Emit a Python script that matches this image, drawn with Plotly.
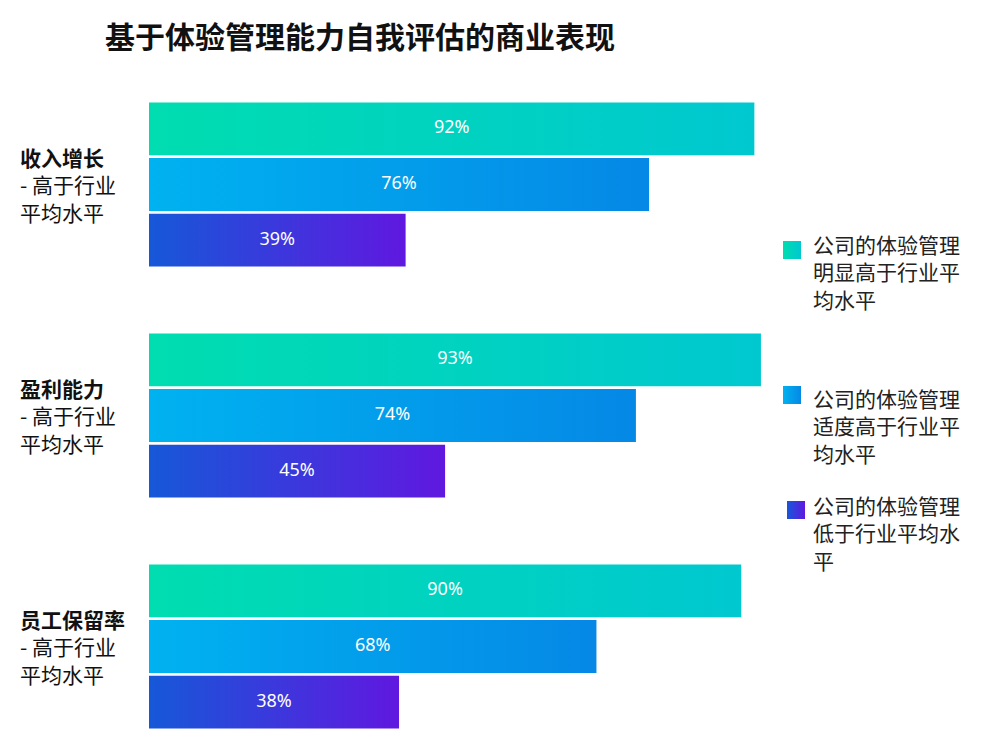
import plotly.graph_objects as go

# data
metrics = ["收入增长", "盈利能力", "员工保留率"]
metric_note = "- 高于行业<br>平均水平"
levels = [
    "公司的体验管理<br>明显高于行业平<br>均水平",
    "公司的体验管理<br>适度高于行业平<br>均水平",
    "公司的体验管理<br>低于行业平均水<br>平",
]
high = [92, 93, 90]
moderate = [76, 74, 68]
low = [39, 45, 38]
series = [high, moderate, low]

# styling
grads = [("#00DDB0", "#00C8D0"), ("#00B2F0", "#0588E6"), ("#1658D8", "#6018E0")]
cjk = "Noto Sans CJK SC"
G = 4.15      # spacing between groups (in bar units)
half = 0.475  # half bar height

# page body has an 8px margin, so the figure is a bit smaller than the window
OFF = 8
W, H = 984, 734


def px(x):
    return (x - OFF) / W


def py(y):
    return 1 - (y - OFF) / H


fig = go.Figure()

for k, vals in enumerate(series):
    for g, v in enumerate(vals):
        yc = g * G + k
        fig.add_trace(go.Scatter(
            x=[0, v, v, 0, 0],
            y=[yc - half, yc - half, yc + half, yc + half, yc - half],
            fill="toself", mode="lines", line=dict(width=0),
            fillgradient=dict(type="horizontal",
                              colorscale=[[0, grads[k][0]], [1, grads[k][1]]]),
            hoverinfo="skip", showlegend=False,
        ))
    fig.add_trace(go.Scatter(
        x=[v / 2 for v in vals], y=[g * G + k for g in range(len(vals))],
        mode="text", text=[f"{v}%" for v in vals],
        textfont=dict(family="Noto Sans, " + cjk, size=18, color="white"),
        hoverinfo="skip", showlegend=False,
    ))

# legend keys on a page-sized axis pair
key_pos = [(792, 250), (792, 395), (796, 510)]
for k, (kx, ky) in enumerate(key_pos):
    fig.add_trace(go.Scatter(
        x=[kx - OFF], y=[ky - OFF], xaxis="x2", yaxis="y2", mode="markers",
        marker=dict(symbol="square", size=18, color=grads[k][0],
                    gradient=dict(type="horizontal", color=grads[k][1]),
                    line=dict(width=0)),
        hoverinfo="skip", showlegend=False,
    ))

text_top = [227, 381, 488]
for k, lab in enumerate(levels):
    fig.add_annotation(
        x=px(811), y=py(text_top[k]), xref="paper", yref="paper",
        xanchor="left", yanchor="top", align="left", showarrow=False,
        text=lab, font=dict(family=cjk, size=21, color="#222222"),
    )

for g, m in enumerate(metrics):
    fig.add_annotation(
        x=px(18), y=g * G + 1, xref="paper", yref="y",
        xanchor="left", yanchor="middle", align="left", showarrow=False,
        text=f"<b>{m}</b><br>{metric_note}",
        font=dict(family=cjk, size=21, color="#111111"),
    )

fig.add_annotation(
    x=px(103), y=py(35), xref="paper", yref="paper",
    xanchor="left", yanchor="middle", showarrow=False,
    text="<b>基于体验管理能力自我评估的商业表现</b>",
    font=dict(family=cjk, size=30, color="#111111"),
)

hidden = dict(showgrid=False, zeroline=False, showticklabels=False,
              showline=False, ticks="")
fig.update_layout(
    width=W, height=H,
    margin=dict(l=0, r=0, t=0, b=0),
    paper_bgcolor="white", plot_bgcolor="rgba(0,0,0,0)",
    xaxis=dict(domain=[px(149), px(807)], range=[0, 100], **hidden),
    yaxis=dict(domain=[py(730), py(101)],
               range=[2 * G + 2 + 0.5, -0.5], **hidden),
    xaxis2=dict(domain=[0, 1], range=[0, W], anchor="y2", **hidden),
    yaxis2=dict(domain=[0, 1], range=[H, 0], anchor="x2", **hidden),
    hovermode=False,
)

fig.write_html("out.html")
